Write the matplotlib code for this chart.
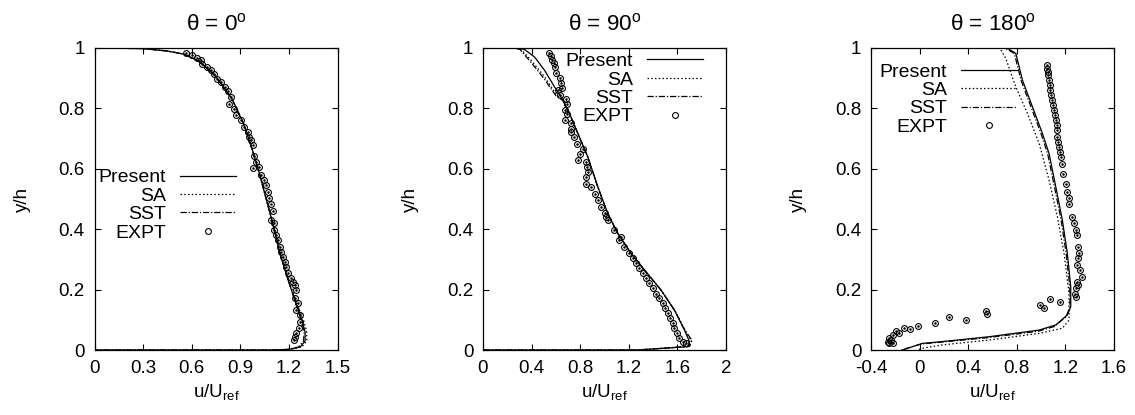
import numpy as np
import matplotlib
matplotlib.use('Agg')
import matplotlib.pyplot as plt
from matplotlib.lines import Line2D

plt.rcParams['font.family'] = ['Liberation Sans', 'DejaVu Sans']
plt.rcParams['mathtext.default'] = 'regular'
plt.rcParams['font.size'] = 13.5

# ---- theta = 0 ----
u0_present = [0, 0.3, 0.45, 0.55, 0.65, 0.75, 0.85, 0.92, 0.97, 1.01, 1.06, 1.10, 1.14, 1.19, 1.24, 1.28, 1.30, 1.30, 1.27, 1.20, 1.10, 0]
y0_present = [1, 0.998, 0.99, 0.98, 0.955, 0.905, 0.83, 0.75, 0.67, 0.60, 0.50, 0.42, 0.33, 0.24, 0.16, 0.10, 0.06, 0.03, 0.01, 0.002, 0, 0]
u0_sa = [0, 0.3, 0.45, 0.55, 0.65, 0.75, 0.85, 0.92, 0.97, 1.01, 1.06, 1.10, 1.145, 1.195, 1.245, 1.29, 1.31, 1.31, 1.28, 1.21, 1.10, 0]
y0_sa = y0_present
u0_sst = [0, 0.3, 0.45, 0.55, 0.65, 0.75, 0.85, 0.92, 0.97, 1.01, 1.06, 1.10, 1.14, 1.19, 1.24, 1.275, 1.295, 1.29, 1.26, 1.19, 1.10, 0]
y0_sst = y0_present
u0_expt = [0.563, 0.604, 0.635, 0.656, 0.666, 0.697, 0.718, 0.739, 0.759, 0.780, 0.805, 0.821, 0.842, 0.828,
           0.863, 0.873, 0.904, 0.925, 0.946, 0.956, 0.966, 0.977, 0.987, 0.997, 0.977, 1.018, 1.028, 1.049,
           1.059, 1.070, 1.080, 1.090, 1.101, 1.090, 1.111, 1.111, 1.121, 1.132, 1.142, 1.152, 1.163, 1.173,
           1.184, 1.194, 1.210, 1.225, 1.235, 1.246, 1.235, 1.256, 1.246, 1.266, 1.266, 1.262, 1.246, 1.235, 1.231]
y0_expt = [0.983, 0.976, 0.968, 0.959, 0.948, 0.937, 0.926, 0.913, 0.899, 0.888, 0.871, 0.858, 0.838, 0.814,
           0.799, 0.777, 0.761, 0.739, 0.722, 0.706, 0.695, 0.680, 0.642, 0.623, 0.601, 0.606, 0.579, 0.562,
           0.546, 0.524, 0.502, 0.483, 0.461, 0.430, 0.419, 0.399, 0.380, 0.364, 0.342, 0.325, 0.309, 0.292,
           0.276, 0.254, 0.237, 0.226, 0.215, 0.198, 0.171, 0.154, 0.132, 0.116, 0.094, 0.072, 0.055, 0.044, 0.033]

# ---- theta = 90 ----
u90_present = [0, 0.30, 0.342, 0.425, 0.507, 0.589, 0.658, 0.712, 0.781, 0.863, 0.945, 1.027, 1.110, 1.219, 1.329, 1.466, 1.575, 1.658, 1.699, 1.685, 1.27, 0]
y90_present = [1, 1.0, 0.995, 0.970, 0.926, 0.871, 0.827, 0.783, 0.717, 0.639, 0.540, 0.452, 0.386, 0.320, 0.265, 0.198, 0.132, 0.066, 0.028, 0.011, 0, 0]
u90_sa = [0, 0.27, 0.315, 0.397, 0.507, 0.605, 0.660, 0.714, 0.783, 0.865, 0.947, 1.029, 1.112, 1.222, 1.333, 1.470, 1.580, 1.665, 1.715, 1.70, 1.27, 0]
y90_sa = [1, 1.0, 0.995, 0.959, 0.904, 0.845, 0.825, 0.781, 0.715, 0.637, 0.538, 0.450, 0.384, 0.318, 0.263, 0.196, 0.130, 0.064, 0.030, 0.012, 0, 0]
u90_sst = [0, 0.26, 0.305, 0.390, 0.500, 0.600, 0.658, 0.712, 0.781, 0.863, 0.945, 1.027, 1.110, 1.220, 1.331, 1.468, 1.578, 1.662, 1.72, 1.70, 1.27, 0]
y90_sst = [1, 1.0, 0.995, 0.955, 0.900, 0.842, 0.826, 0.782, 0.716, 0.638, 0.539, 0.451, 0.385, 0.319, 0.264, 0.197, 0.131, 0.065, 0.032, 0.012, 0, 0]
u90_expt = [0.540, 0.556, 0.567, 0.584, 0.589, 0.603, 0.630, 0.638, 0.649, 0.616, 0.630, 0.685, 0.693, 0.671,
            0.693, 0.677, 0.721, 0.726, 0.721, 0.753, 0.775, 0.822, 0.795, 0.781, 0.849, 0.858, 0.868, 0.849,
            0.849, 0.890, 0.918, 0.945, 0.973, 1.000, 1.014, 1.027, 1.077, 1.123, 1.137, 1.164, 1.205, 1.233,
            1.260, 1.288, 1.315, 1.342, 1.370, 1.397, 1.425, 1.452, 1.479, 1.499, 1.521, 1.542, 1.562, 1.575,
            1.597, 1.616, 1.644, 1.671]
y90_expt = [0.983, 0.972, 0.961, 0.950, 0.937, 0.917, 0.902, 0.884, 0.869, 0.862, 0.843, 0.832, 0.816, 0.794,
            0.783, 0.763, 0.750, 0.733, 0.722, 0.706, 0.681, 0.664, 0.650, 0.628, 0.623, 0.606, 0.590, 0.573,
            0.551, 0.540, 0.518, 0.496, 0.474, 0.454, 0.441, 0.430, 0.399, 0.364, 0.375, 0.342, 0.320, 0.303,
            0.287, 0.270, 0.254, 0.237, 0.221, 0.204, 0.187, 0.171, 0.154, 0.138, 0.121, 0.105, 0.088, 0.072,
            0.055, 0.039, 0.028, 0.022]

# ---- theta = 180 ----
u180_present = [0, 0.72, 0.792, 0.847, 0.929, 1.011, 1.066, 1.121, 1.175, 1.216, 1.244, 1.244, 1.216, 1.121, 0.984, 0.573, 0.189, 0.025, -0.058, -0.14]
y180_present = [1, 1.0, 0.982, 0.893, 0.805, 0.717, 0.650, 0.540, 0.430, 0.320, 0.209, 0.143, 0.116, 0.083, 0.066, 0.044, 0.028, 0.022, 0.011, 0]
u180_sa = [0, 0.66, 0.710, 0.792, 0.888, 0.984, 1.066, 1.134, 1.189, 1.230, 1.230, 1.175, 0.984, 0.573, 0.189, 0.025, -0.02]
y180_sa = [1, 1.0, 0.965, 0.871, 0.783, 0.684, 0.562, 0.441, 0.320, 0.187, 0.099, 0.072, 0.055, 0.033, 0.017, 0.006, 0]
u180_sst = [0, 0.70, 0.780, 0.835, 0.917, 0.999, 1.054, 1.110, 1.165, 1.206, 1.236, 1.238, 1.205, 1.110, 0.975, 0.565, 0.180, 0.015, -0.07, -0.15]
y180_sst = [1, 1.0, 0.982, 0.893, 0.805, 0.717, 0.650, 0.540, 0.430, 0.320, 0.209, 0.143, 0.110, 0.078, 0.062, 0.041, 0.026, 0.020, 0.010, 0]
u180_expt = [1.047, 1.052, 1.058, 1.060, 1.066, 1.071, 1.077, 1.085, 1.093, 1.101, 1.110, 1.118, 1.126, 1.134,
             1.129, 1.134, 1.142, 1.148, 1.156, 1.162, 1.170, 1.181, 1.203, 1.216, 1.230, 1.230, 1.258, 1.271,
             1.285, 1.299, 1.307, 1.312, 1.307, 1.299, 1.318, 1.334, 1.299, 1.307, 1.285, 1.277, 1.290,
             0.989, 1.025, 1.074, 1.153, 0.545, 0.551, 0.381, 0.244, 0.123, -0.011, -0.077, -0.132, -0.167,
             -0.195, -0.222, -0.249, -0.236, -0.263, -0.255, -0.222]
y180_expt = [0.943, 0.932, 0.921, 0.910, 0.893, 0.877, 0.860, 0.843, 0.827, 0.810, 0.794, 0.777, 0.761, 0.744,
             0.728, 0.706, 0.689, 0.673, 0.656, 0.639, 0.617, 0.584, 0.551, 0.524, 0.502, 0.485, 0.441, 0.419,
             0.397, 0.380, 0.342, 0.320, 0.303, 0.281, 0.265, 0.243, 0.226, 0.215, 0.204, 0.187, 0.176,
             0.149, 0.138, 0.168, 0.160, 0.130, 0.119, 0.099, 0.108, 0.088, 0.080, 0.068, 0.074, 0.055,
             0.063, 0.050, 0.039, 0.033, 0.028, 0.024, 0.022]

panels = [
    dict(title=r'θ = 0$^{o}$', xlim=(0, 1.5), xticks=[0, 0.3, 0.6, 0.9, 1.2, 1.5],
         xlabels=['0', '0.3', '0.6', '0.9', '1.2', '1.5'],
         present=(u0_present, y0_present), sa=(u0_sa, y0_sa), sst=(u0_sst, y0_sst), expt=(u0_expt, y0_expt),
         left=94.5, leg=(0.583, 0.60)),
    dict(title=r'θ = 90$^{o}$', xlim=(0, 2), xticks=[0, 0.4, 0.8, 1.2, 1.6, 2.0],
         xlabels=['0', '0.4', '0.8', '1.2', '1.6', '2'],
         present=(u90_present, y90_present), sa=(u90_sa, y90_sa), sst=(u90_sst, y90_sst), expt=(u90_expt, y90_expt),
         left=483, leg=(0.905, 0.985)),
    dict(title=r'θ = 180$^{o}$', xlim=(-0.4, 1.6), xticks=[-0.4, 0, 0.4, 0.8, 1.2, 1.6],
         xlabels=['-0.4', '0', '0.4', '0.8', '1.2', '1.6'],
         present=(u180_present, y180_present), sa=(u180_sa, y180_sa), sst=(u180_sst, y180_sst), expt=(u180_expt, y180_expt),
         left=871, leg=(0.601, 0.95)),
]

W, H = 1135, 415
fig = plt.figure(figsize=(W / 100, H / 100), dpi=100)

lw = 0.9
for p in panels:
    ax = fig.add_axes([p['left'] / W, 1 - 350 / H, 243 / W, 302 / H])
    ax.plot(*p['present'], color='black', lw=lw, label='Present')
    ax.plot(*p['sa'], color='black', lw=lw, dashes=(1.2, 1.8), label='SA')
    ax.plot(*p['sst'], color='black', lw=lw, dashes=(5, 1.5, 1, 1.5), label='SST')
    ax.plot(*p['expt'], ls='none', marker='o', ms=4.2, mfc='none', mec='black', mew=0.8, label='EXPT')
    ax.plot(*p['expt'], ls='none', marker='o', ms=0.8, color='black')
    ax.set_xlim(*p['xlim'])
    ax.set_ylim(0, 1)
    ax.set_xticks(p['xticks'], p['xlabels'])
    ax.set_yticks([0, 0.2, 0.4, 0.6, 0.8, 1.0], ['0', '0.2', '0.4', '0.6', '0.8', '1'])
    ax.tick_params(direction='in', top=True, right=True, length=4, width=0.8, pad=7)
    for s in ax.spines.values():
        s.set_linewidth(0.9)
    ax.set_title(p['title'], pad=13)
    ax.set_xlabel(r'u/U$_{ref}$', labelpad=4)
    ax.set_ylabel('y/h', labelpad=20)
    handles = [Line2D([], [], color='black', lw=lw),
               Line2D([], [], color='black', lw=lw, dashes=(1.2, 1.8)),
               Line2D([], [], color='black', lw=lw, dashes=(5, 1.5, 1, 1.5)),
               Line2D([], [], ls='none', marker='o', ms=4.2, mfc='none', mec='black', mew=0.8)]
    ax.legend(handles, ['Present', 'SA', 'SST', 'EXPT'], loc='upper right', bbox_to_anchor=p['leg'],
              frameon=False, markerfirst=False, handlelength=2.9, handletextpad=0.7,
              labelspacing=0.04, borderpad=0, borderaxespad=0, fontsize=14)

fig.savefig('out.png', dpi=100)
